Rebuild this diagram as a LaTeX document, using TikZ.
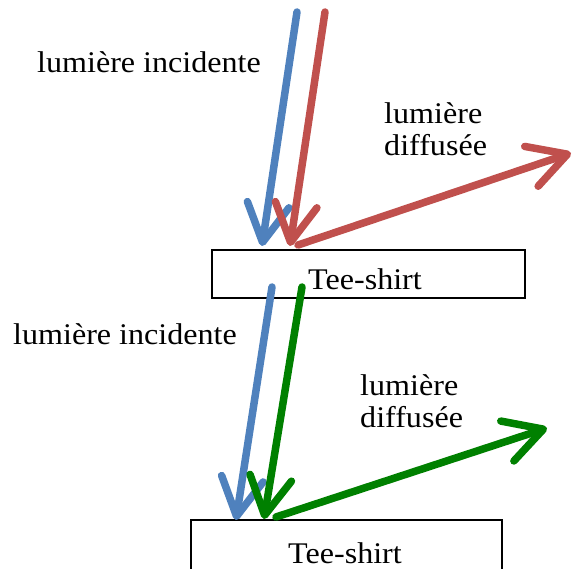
\documentclass[tikz,border=0pt]{standalone}
\usepackage{fontspec}
\setmainfont[FakeStretch=1.07]{Liberation Serif}
\usetikzlibrary{arrows.meta}
\definecolor{cblue}{HTML}{4F81BD}
\definecolor{cred}{HTML}{C0504D}
\definecolor{cgreen}{HTML}{008000}
\begin{document}
\begin{tikzpicture}[x=1pt,y=-1pt,
  ray/.style={line width=7.5pt,line cap=round,-{Straight Barb[length=38pt,width=42pt,round,line width=7.5pt]}},
  shirt/.style={draw,line width=1.6pt,minimum height=48pt,inner sep=0pt},
  txt/.style={font=\fontsize{30}{32}\selectfont,inner sep=0pt},
  lbl/.style={font=\fontsize{30}{32}\selectfont,align=left,inner sep=0pt}]
\useasboundingbox (0,0) rectangle (582,569);
% boxes
\node[shirt,minimum width=313pt] (box1) at (368.5,274) {};
\node[txt] (t1) at (365,279) {Tee-shirt};
\node[shirt,minimum width=311pt,minimum height=72pt] (box2) at (346.5,556) {};
\node[txt] (t2) at (345,553) {Tee-shirt};
% labels
\node[lbl] (li1) at (149,62) {lumière incidente};
\node[lbl,anchor=west] (ld1) at (384,129) {lumière\\diffusée};
\node[lbl] (li2) at (125,334) {lumière incidente};
\node[lbl,anchor=west] (ld2) at (360,401) {lumière\\diffusée};
% coordinates
\coordinate (b1s) at (297,12);
\coordinate (b1e) at (262,246);
\coordinate (r1s) at (325,12);
\coordinate (r1e) at (290,246);
\coordinate (d1s) at (298,245);
\coordinate (d1e) at (571,153);
\coordinate (b2s) at (272,287);
\coordinate (b2e) at (236,520);
\coordinate (g2s) at (302,287);
\coordinate (g2e) at (264,519);
\coordinate (d2s) at (276,517);
\coordinate (d2e) at (547,428);
% rays
\draw[ray,cblue] (b1s) -- (b1e);
\draw[ray,cred] (r1s) -- (r1e);
\draw[ray,cred] (d1s) -- (d1e);
\draw[ray,cblue] (b2s) -- (b2e);
\draw[ray,cgreen] (g2s) -- (g2e);
\draw[ray,cgreen] (d2s) -- (d2e);
\end{tikzpicture}
\end{document}
